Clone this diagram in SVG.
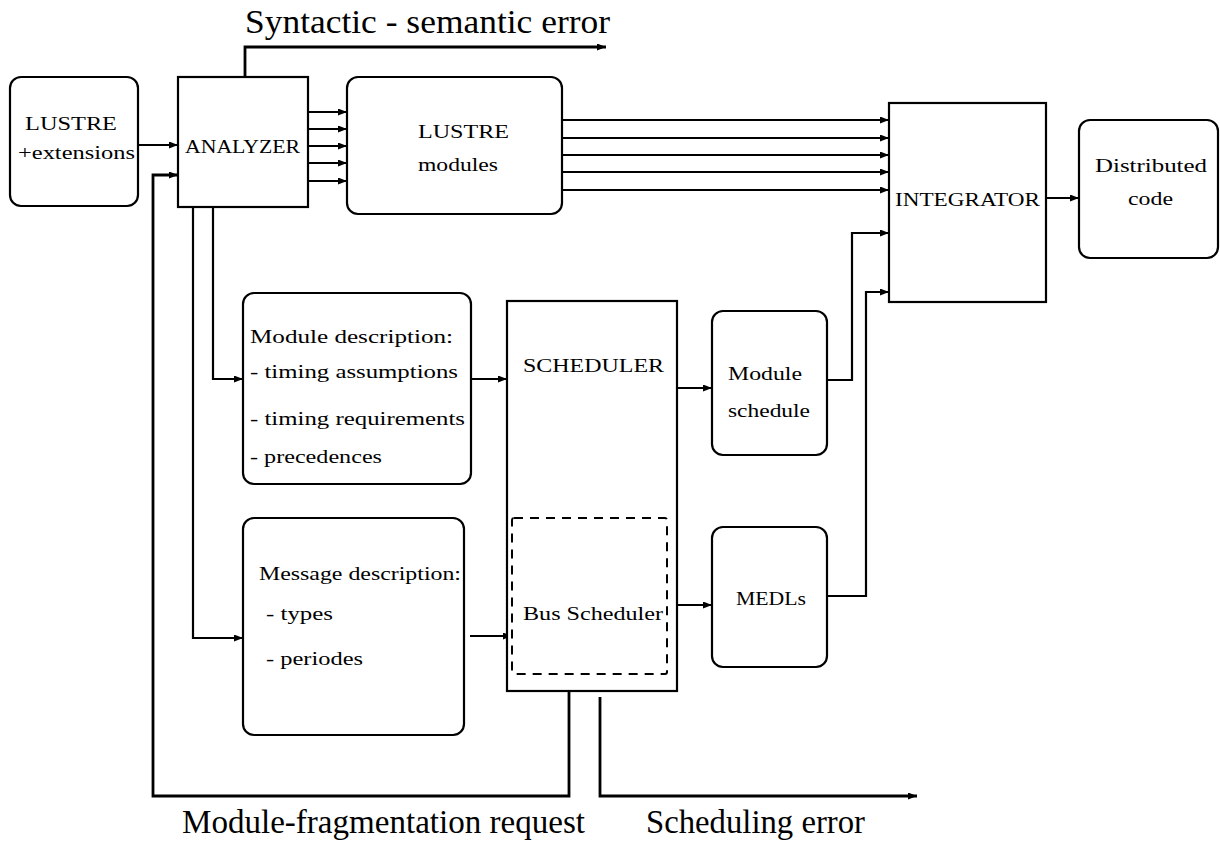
<svg xmlns="http://www.w3.org/2000/svg" width="1220" height="843" viewBox="0 0 1220 843" font-family="'Liberation Serif', 'Times New Roman', 'DejaVu Serif', serif">
<style>
.box{fill:#fff;stroke:#000;stroke-width:2.2}
.dash{fill:none;stroke:#000;stroke-width:2;stroke-dasharray:9,7}
.ln{fill:none;stroke:#000;stroke-width:2.2}
.thick{fill:none;stroke:#000;stroke-width:2.8}
.s{font-size:19px;font-family:'Liberation Serif','Times New Roman','DejaVu Serif',serif;fill:#000}
.b{font-size:33px;font-family:'Liberation Serif','Times New Roman','DejaVu Serif',serif;fill:#000}
</style>
<defs>
<marker id="ah" markerUnits="userSpaceOnUse" markerWidth="10" markerHeight="8" refX="9" refY="3.5" orient="auto">
<path d="M0,0 L9,3.5 L0,7 z" fill="#000"/>
</marker>
<marker id="ahs" markerUnits="userSpaceOnUse" markerWidth="10" markerHeight="8" refX="9" refY="3.5" orient="auto-start-reverse">
<path d="M0,0 L9,3.5 L0,7 z" fill="#000"/>
</marker>
</defs>
<g id="connectors">
<path class="thick" d="M245,77 V47 H606" marker-end="url(#ah)"/>
<path class="ln" d="M138,145 H178" marker-end="url(#ah)"/>
<path class="ln" d="M308,112 H347" marker-end="url(#ah)"/>
<path class="ln" d="M308,129 H347" marker-end="url(#ah)"/>
<path class="ln" d="M308,146 H347" marker-end="url(#ah)"/>
<path class="ln" d="M308,163 H347" marker-end="url(#ah)"/>
<path class="ln" d="M308,181 H347" marker-end="url(#ah)"/>
<path class="ln" d="M562,120 H889" marker-end="url(#ah)"/>
<path class="ln" d="M562,138 H889" marker-end="url(#ah)"/>
<path class="ln" d="M562,155 H889" marker-end="url(#ah)"/>
<path class="ln" d="M562,172 H889" marker-end="url(#ah)"/>
<path class="ln" d="M562,190 H889" marker-end="url(#ah)"/>
<path class="ln" d="M1046,198 H1079" marker-end="url(#ah)"/>
<path class="ln" d="M213,207 V379 H243" marker-end="url(#ah)"/>
<path class="ln" d="M193,207 V638 H243" marker-end="url(#ah)"/>
<path class="ln" d="M471,379 H507" marker-end="url(#ah)"/>
<path class="ln" d="M470,636 H512" marker-end="url(#ah)"/>
<path class="ln" d="M582,379 V501" marker-start="url(#ahs)" marker-end="url(#ahs)"/>
<path class="ln" d="M677,388 H712" marker-end="url(#ah)"/>
<path class="ln" d="M677,605 H712" marker-end="url(#ah)"/>
<path class="ln" d="M827,380 H852 V233 H889" marker-end="url(#ah)"/>
<path class="ln" d="M827,596 H866 V292 H889" marker-end="url(#ah)"/>
<path class="thick" d="M569,692 V796 H153 V175 H178" marker-end="url(#ah)"/>
<path class="thick" d="M600,697 V796 H917" marker-end="url(#ah)"/>
</g>
<g id="lustre-ext">
<rect class="box" x="10" y="77" width="128" height="129" rx="11"/>
<text class="s" x="25" y="130" textLength="92" lengthAdjust="spacingAndGlyphs">LUSTRE</text>
<text class="s" x="18" y="159" textLength="117" lengthAdjust="spacingAndGlyphs">+extensions</text>
</g>
<g id="analyzer">
<rect class="box" x="178" y="77" width="130" height="130"/>
<text class="s" x="185" y="153" textLength="115" lengthAdjust="spacingAndGlyphs">ANALYZER</text>
</g>
<g id="lustre-modules">
<rect class="box" x="347" y="77" width="215" height="137" rx="11"/>
<text class="s" x="418" y="138" textLength="91" lengthAdjust="spacingAndGlyphs">LUSTRE</text>
<text class="s" x="418" y="171" textLength="80" lengthAdjust="spacingAndGlyphs">modules</text>
</g>
<g id="integrator">
<rect class="box" x="889" y="103" width="157" height="199"/>
<text class="s" x="895" y="206" textLength="145" lengthAdjust="spacingAndGlyphs">INTEGRATOR</text>
</g>
<g id="distributed-code">
<rect class="box" x="1079" y="120" width="139" height="138" rx="11"/>
<text class="s" x="1095" y="172" textLength="112" lengthAdjust="spacingAndGlyphs">Distributed</text>
<text class="s" x="1128" y="205" textLength="45" lengthAdjust="spacingAndGlyphs">code</text>
</g>
<g id="module-description">
<rect class="box" x="243" y="293" width="228" height="191" rx="11"/>
<text class="s" x="250" y="343" textLength="203" lengthAdjust="spacingAndGlyphs">Module description:</text>
<text class="s" x="250" y="378" textLength="208" lengthAdjust="spacingAndGlyphs">- timing assumptions</text>
<text class="s" x="250" y="425" textLength="215" lengthAdjust="spacingAndGlyphs">- timing requirements</text>
<text class="s" x="250" y="463" textLength="132" lengthAdjust="spacingAndGlyphs">- precedences</text>
</g>
<g id="message-description">
<rect class="box" x="243" y="518" width="221" height="217" rx="11"/>
<text class="s" x="259" y="580" textLength="202" lengthAdjust="spacingAndGlyphs">Message description:</text>
<text class="s" x="266" y="620" textLength="67" lengthAdjust="spacingAndGlyphs">- types</text>
<text class="s" x="266" y="665" textLength="97" lengthAdjust="spacingAndGlyphs">- periodes</text>
</g>
<g id="scheduler">
<rect class="box" x="507" y="301" width="170" height="390"/>
<text class="s" x="523" y="372" textLength="141" lengthAdjust="spacingAndGlyphs">SCHEDULER</text>
</g>
<g id="bus-scheduler">
<rect class="dash" x="512" y="518" width="155" height="156" rx="2"/>
<text class="s" x="523" y="620" textLength="140" lengthAdjust="spacingAndGlyphs">Bus Scheduler</text>
</g>
<g id="module-schedule">
<rect class="box" x="712" y="311" width="115" height="144" rx="11"/>
<text class="s" x="728" y="380" textLength="74" lengthAdjust="spacingAndGlyphs">Module</text>
<text class="s" x="728" y="417" textLength="82" lengthAdjust="spacingAndGlyphs">schedule</text>
</g>
<g id="medls">
<rect class="box" x="712" y="527" width="115" height="140" rx="11"/>
<text class="s" x="736" y="605" textLength="70" lengthAdjust="spacingAndGlyphs">MEDLs</text>
</g>
<g id="labels">
<text class="b" x="245" y="33" textLength="365" lengthAdjust="spacingAndGlyphs">Syntactic - semantic error</text>
<text class="b" x="182" y="833" textLength="403" lengthAdjust="spacingAndGlyphs">Module-fragmentation request</text>
<text class="b" x="646" y="833" textLength="219" lengthAdjust="spacingAndGlyphs">Scheduling error</text>
</g>
</svg>
